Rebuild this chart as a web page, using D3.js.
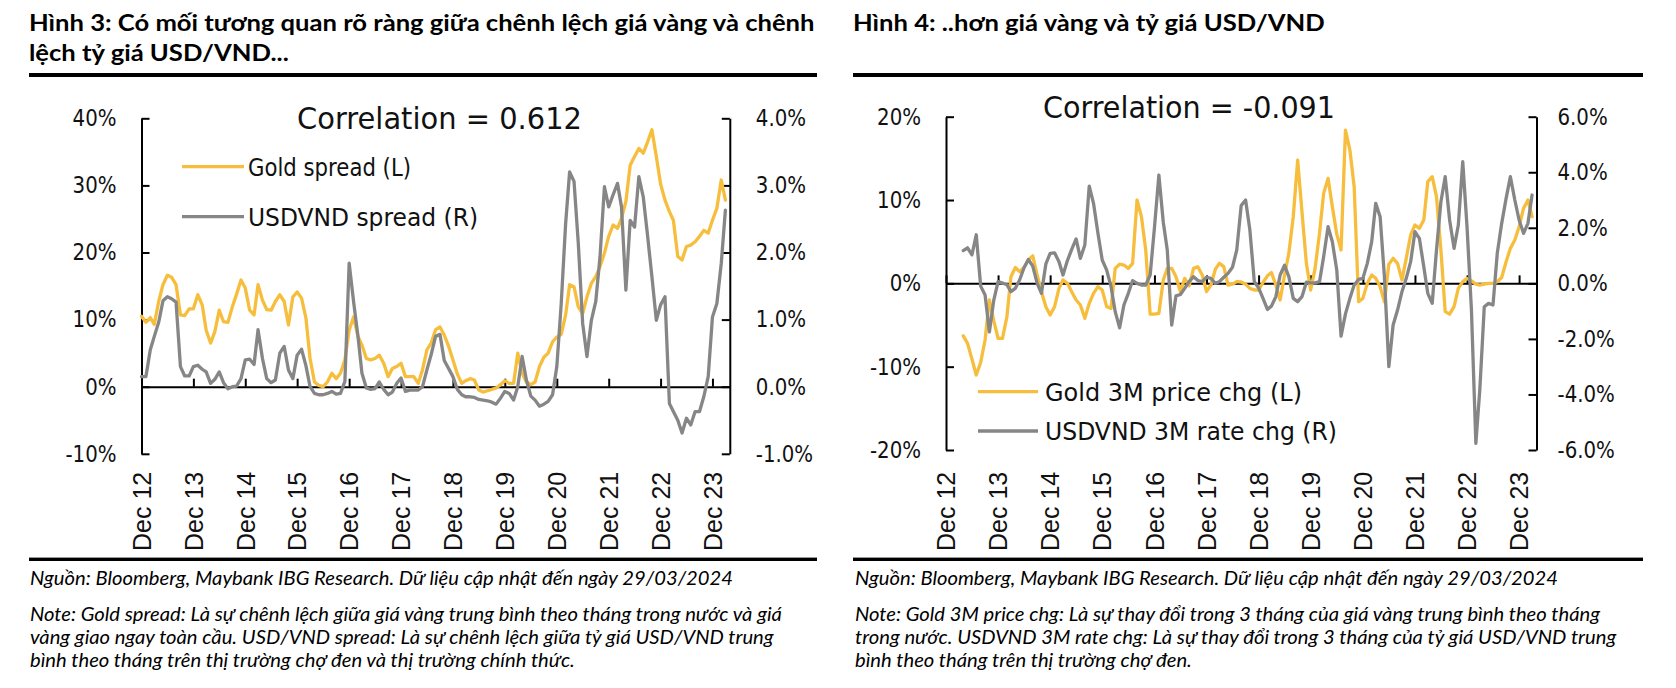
<!DOCTYPE html>
<html><head><meta charset="utf-8">
<script src="https://cdn.jsdelivr.net/npm/d3@7"></script>
<style>html,body{margin:0;padding:0;background:#fff}svg{display:block}</style>
</head><body>
<svg id="c" width="1676" height="688"></svg>
<script>
// ---------------- DATA ----------------
const startMonth = "2012-12"; // first monthly observation
const xTickLabels = ["Dec 12","Dec 13","Dec 14","Dec 15","Dec 16","Dec 17","Dec 18","Dec 19","Dec 20","Dec 21","Dec 22","Dec 23"];

// Figure 3 (%), monthly Dec-2012 .. Mar-2024
const goldSpread = [10.5, 9.6, 10.3, 9.3, 12.7, 15.2, 16.6, 16.3, 15.2, 10.7,
 10.6, 11.6, 11.6, 13.7, 12.2, 8.4, 6.5, 8.2, 11.4, 9.7,
 9.6, 11.9, 13.8, 15.9, 14.7, 11.4, 10.7, 15.2, 12.9, 11.5,
 11.4, 12.7, 13.7, 12.7, 9.2, 13.4, 14.1, 13.2, 10.2, 4.2,
 0.7, 0.2, 0.0, 0.7, 2.0, 1.2, 2.0, 4.0, 8.4, 10.4,
 7.5, 6.2, 4.2, 4.0, 4.2, 4.7, 3.5, 1.5, 2.7, 3.0,
 3.5, 1.5, 1.5, 1.5, 0.5, 2.5, 5.5, 6.5, 8.5, 8.9,
 7.7, 6.0, 4.0, 1.9, 0.5, 0.9, 1.2, 1.0, -0.5, -0.8,
 -0.6, -0.4, -0.2, 0.3, 0.9, 0.5, 0.5, 5.0, 2.0, 0.7,
 0.3, 0.7, 3.0, 4.4, 5.0, 6.7, 7.4, 7.8, 10.7, 15.2,
 14.9, 11.9, 10.9, 13.4, 15.4, 16.4, 17.9, 19.9, 22.4, 24.1,
 23.6, 25.1, 27.6, 33.0, 34.3, 35.5, 34.8, 36.5, 38.3, 34.3,
 30.2, 27.8, 26.1, 24.8, 19.4, 18.9, 20.9, 21.1, 21.6, 22.4,
 23.3, 22.9, 24.8, 26.6, 30.8, 27.8];
const usdvndSpread = [0.15, 0.15, 0.55, 0.75, 0.96, 1.28, 1.34, 1.31, 1.26, 0.30,
 0.16, 0.16, 0.30, 0.32, 0.26, 0.22, 0.05, 0.11, 0.22, 0.06,
 -0.03, 0.0, 0.01, 0.12, 0.40, 0.41, 0.33, 0.85, 0.42, 0.12,
 0.06, 0.10, 0.50, 0.60, 0.25, 0.12, 0.47, 0.56, 0.31, 0.0,
 -0.10, -0.12, -0.12, -0.10, -0.07, -0.11, -0.10, 0.08, 1.84, 1.27,
 0.75, 0.20, -0.02, -0.04, -0.03, 0.07, -0.04, -0.12, -0.08, 0.05,
 0.13, -0.07, -0.05, -0.05, -0.05, 0.0, 0.25, 0.48, 0.75, 0.78,
 0.39, 0.27, 0.15, -0.04, -0.12, -0.15, -0.15, -0.16, -0.19, -0.20,
 -0.21, -0.23, -0.26, -0.17, -0.07, -0.10, -0.20, 0.0, 0.45, 0.10,
 -0.14, -0.20, -0.29, -0.26, -0.22, -0.12, 0.30, 1.24, 2.43, 3.20,
 3.06, 2.14, 0.94, 0.45, 0.99, 1.27, 1.94, 2.98, 2.68, 2.86,
 3.03, 2.68, 1.44, 2.48, 2.38, 3.13, 2.83, 2.24, 1.64, 0.99,
 1.22, 1.34, -0.25, -0.37, -0.50, -0.69, -0.47, -0.57, -0.37, -0.37,
 -0.15, 0.15, 1.04, 1.24, 1.84, 2.63];

// Figure 4 (%), monthly Dec-2012 .. Mar-2024 (3M changes start Apr-2013)
const gold3m = [null, null, null, null, -6.3, -7.2, -9.1, -11.0, -9.5, -6.8,
 -2.0, -4.5, -6.6, -6.6, -4.0, 0.8, 1.9, 1.4, 1.9, 2.8,
 3.3, 1.0, -1.0, -2.8, -3.8, -2.8, -0.6, 0.4, 0.0, -1.0,
 -2.0, -2.6, -4.2, -2.4, -1.2, -0.4, -0.8, -2.8, -3.0, 1.8,
 2.3, 2.2, 1.8, 2.4, 10.0, 8.0, 4.0, -3.7, -3.7, -3.6,
 0.4, 1.8, 1.8, 0.8, -1.0, 0.6, -0.3, 1.8, 2.0, 1.0,
 -1.0, -0.2, 1.7, 2.4, 2.0, -0.2, -0.1, 0.2, 0.16, -0.1,
 -0.6, -0.8, -0.8, 0.1, 0.9, 1.3, -0.2, -2.0, 1.0, 3.6,
 8.0, 14.8, 8.6, 2.4, -0.8, 1.8, 6.0, 10.8, 12.6, 9.2,
 5.9, 4.0, 18.4, 16.0, 11.6, -2.2, -1.8, 0.0, 1.0, 0.6,
 -0.4, -2.2, 2.3, 3.0, 2.4, 0.4, 3.0, 5.8, 7.0, 6.6,
 7.6, 12.2, 12.8, 10.4, 4.0, -3.4, -3.7, -2.8, -0.6, 0.2,
 0.6, 0.3, -0.1, -0.2, -0.1, 0.0, 0.0, 0.2, 0.7, 2.6,
 4.2, 5.2, 6.8, 9.0, 10.0, 8.0];
const usdvnd3m = [null, null, null, null, 1.18, 1.28, 1.03, 1.75, -0.10, -0.42,
 -1.75, -0.60, 0.06, 0.01, -0.05, -0.30, -0.18, 0.12, 0.56, 0.86,
 0.62, 0.0, -0.36, 0.70, 1.08, 1.10, 0.78, 0.30, 0.82, 1.22,
 1.60, 0.90, 1.38, 3.50, 2.88, 1.80, 0.84, 0.48, -0.12, -1.02,
 -1.60, -0.78, -0.36, 0.10, 0.0, -0.06, -0.06, 0.30, 2.00, 3.90,
 2.20, 1.20, -1.50, -0.45, -0.40, -0.18, 0.06, 0.24, 0.10, 0.06,
 0.22, 0.18, 0.0, 0.06, 0.22, 0.36, 0.58, 1.20, 2.80, 3.00,
 1.92, 0.06, -0.16, -0.54, -0.94, -0.82, -0.48, 0.30, 0.65, 0.24,
 -0.54, -0.66, -0.48, 0.04, 0.02, 0.02, 0.06, 0.96, 2.04, 1.50,
 0.48, -1.90, -1.10, -0.54, -0.06, 0.14, 0.18, 0.72, 1.50, 2.88,
 2.40, 0.24, -3.00, -1.50, -0.96, -0.30, 0.18, 0.78, 1.86, 1.62,
 0.60, -0.36, -0.72, 1.20, 2.94, 3.84, 2.28, 1.26, 2.10, 4.38,
 2.04, -0.96, -5.76, -3.80, -0.84, -0.72, -0.78, 1.08, 2.16, 3.06,
 3.84, 3.00, 2.28, 1.80, 2.16, 3.18];

const fig3LeftTicks = [-10, 0, 10, 20, 30, 40];
const fig3LeftLabels = ["-10%", "0%", "10%", "20%", "30%", "40%"];
const fig3RightTicks = [-1, 0, 1, 2, 3, 4];
const fig3RightLabels = ["-1.0%", "0.0%", "1.0%", "2.0%", "3.0%", "4.0%"];
const fig4LeftTicks = [-20, -10, 0, 10, 20];
const fig4LeftLabels = ["-20%", "-10%", "0%", "10%", "20%"];
const fig4RightTicks = [-6, -4, -2, 0, 2, 4, 6];
const fig4RightLabels = ["-6.0%", "-4.0%", "-2.0%", "0.0%", "2.0%", "4.0%", "6.0%"];

const fig3Series = ["Gold spread (L)", "USDVND spread (R)"];
const fig4Series = ["Gold 3M price chg (L)", "USDVND 3M rate chg (R)"];
const fig3Corr = "Correlation = 0.612";
const fig4Corr = "Correlation = -0.091";

const fig3Title = ["Hình 3: Có mối tương quan rõ ràng giữa chênh lệch giá vàng và chênh", "lệch tỷ giá USD/VND..."];
const fig4Title = ["Hình 4: ..hơn giá vàng và tỷ giá USD/VND"];
const sourceText = "Nguồn: Bloomberg, Maybank IBG Research. Dữ liệu cập nhật đến ngày 29/03/2024";
const fig3Notes = ["Note: Gold spread: Là sự chênh lệch giữa giá vàng trung bình theo tháng trong nước và giá",
 "vàng giao ngay toàn cầu. USD/VND spread: Là sự chênh lệch giữa tỷ giá USD/VND trung",
 "bình theo tháng trên thị trường chợ đen và thị trường chính thức."];
const fig4Notes = ["Note: Gold 3M price chg: Là sự thay đổi trong 3 tháng của giá vàng trung bình theo tháng",
 "trong nước. USDVND 3M rate chg: Là sự thay đổi trong 3 tháng của tỷ giá USD/VND trung",
 "bình theo tháng trên thị trường chợ đen."];

// ---------------- DRAWING ----------------
const svg = d3.select("#c");
svg.append("rect").attr("width", 1676).attr("height", 688).attr("fill", "#fff");
const FONT_CHART = "'DejaVu Sans', Verdana, sans-serif";
const FONT_TEXT = "Lato, 'Noto Sans', sans-serif";
const FONT_XLAB = "'Liberation Sans', Arial, sans-serif";
const GOLD = "#F6BE3C", GREY = "#868686";

const startDate = d3.timeParse("%Y-%m")(startMonth);
const months = d3.range(goldSpread.length).map(i => d3.timeMonth.offset(startDate, i));
const xTickDates = xTickLabels.map(s => d3.timeParse("%b %y")(s));

function squeezeTicks(sel, k) {
  sel.selectAll(".tick text").each(function () {
    const t = d3.select(this);
    const xx = +t.attr("x") || 0;
    t.attr("x", 0).attr("transform", `translate(${xx},0) scale(${k},1)`);
  });
}

function drawChart(c) {
  const g = svg.append("g");
  const x = d3.scaleTime().domain([startDate, d3.timeMonth.offset(startDate, months.length)]).range([c.x0, c.x1]);
  const y = d3.scaleLinear().domain(c.yDom).range([c.yBot, c.yTop]);
  const y2 = d3.scaleLinear().domain(c.y2Dom).range([c.yBot, c.yTop]);

  const styleAxis = a => {
    a.selectAll("path.domain").attr("stroke", "#000").attr("stroke-width", 2);
    a.selectAll(".tick line").attr("stroke", "#000").attr("stroke-width", 2);
    a.selectAll(".tick text").attr("font-family", FONT_CHART).attr("font-size", 23).attr("fill", "#111");
  };

  const aL = g.append("g").attr("transform", `translate(${c.x0},0)`)
    .call(d3.axisLeft(y).tickValues(c.yTicks).tickFormat((d, i) => c.yLabels[i]).tickSize(-8).tickSizeOuter(0).tickPadding(c.padL));
  styleAxis(aL); squeezeTicks(aL, 0.86);

  const aR = g.append("g").attr("transform", `translate(${c.x1},0)`)
    .call(d3.axisRight(y2).tickValues(c.y2Ticks).tickFormat((d, i) => c.y2Labels[i]).tickSize(-8).tickSizeOuter(0).tickPadding(c.padR));
  styleAxis(aR); squeezeTicks(aR, 0.86);

  const aX = g.append("g").attr("transform", `translate(0,${y(0)})`)
    .call(d3.axisBottom(x).tickValues(xTickDates).tickFormat("").tickSize(-8).tickSizeOuter(0));
  styleAxis(aX);

  const aXL = g.append("g").attr("transform", `translate(0,${c.xLabelY})`)
    .call(d3.axisBottom(x).tickValues(xTickDates).tickFormat((d, i) => xTickLabels[i]).tickSize(0).tickSizeOuter(0));
  aXL.select("path.domain").remove();
  aXL.selectAll(".tick text")
    .attr("font-family", FONT_XLAB).attr("font-size", 25).attr("fill", "#111")
    .attr("x", 0).attr("y", 0).attr("dy", "0.35em")
    .attr("text-anchor", "start").attr("transform", "rotate(-90)");

  const mk = scale => d3.line().defined(d => d != null).x((d, i) => x(months[i])).y(d => scale(d));
  g.append("path").datum(c.s1).attr("d", mk(y)).attr("fill", "none").attr("stroke", GOLD)
    .attr("stroke-width", 3.3).attr("stroke-linejoin", "round").attr("stroke-linecap", "round");
  g.append("path").datum(c.s2).attr("d", mk(y2)).attr("fill", "none").attr("stroke", GREY)
    .attr("stroke-width", 3.3).attr("stroke-linejoin", "round").attr("stroke-linecap", "round");

  // legend
  const cols = [GOLD, GREY];
  c.legend.rows.forEach((ly, i) => {
    g.append("line").attr("x1", c.legend.lx0).attr("x2", c.legend.lx1).attr("y1", ly).attr("y2", ly)
      .attr("stroke", cols[i]).attr("stroke-width", 3.3);
    g.append("text").attr("x", c.legend.tx).attr("y", ly).attr("dy", "0.36em")
      .attr("font-family", FONT_CHART).attr("font-size", 24.5).attr("fill", "#111")
      .attr("textLength", c.legend.widths[i]).attr("lengthAdjust", "spacingAndGlyphs")
      .text(c.names[i]);
  });
  // correlation
  g.append("text").attr("x", c.corr.x).attr("y", c.corr.y)
    .attr("font-family", FONT_CHART).attr("font-size", 29.5).attr("fill", "#111")
    .attr("textLength", c.corr.w).attr("lengthAdjust", "spacingAndGlyphs").text(c.corr.text);
}

drawChart({
  x0: 141.5, x1: 729.8, yTop: 118.3, yBot: 453.8,
  yDom: [-10, 40], y2Dom: [-1, 4],
  yTicks: fig3LeftTicks, yLabels: fig3LeftLabels, y2Ticks: fig3RightTicks, y2Labels: fig3RightLabels,
  padL: 25, padR: 26, xLabelY: 551,
  s1: goldSpread, s2: usdvndSpread, names: fig3Series,
  legend: { lx0: 182, lx1: 244, tx: 248, rows: [166.7, 216.7], widths: [163, 230] },
  corr: { x: 297, y: 129, w: 285, text: fig3Corr }
});
drawChart({
  x0: 946, x1: 1536.5, yTop: 116.7, yBot: 450,
  yDom: [-20, 20], y2Dom: [-6, 6],
  yTicks: fig4LeftTicks, yLabels: fig4LeftLabels, y2Ticks: fig4RightTicks, y2Labels: fig4RightLabels,
  padL: 25, padR: 21, xLabelY: 551,
  s1: gold3m, s2: usdvnd3m, names: fig4Series,
  legend: { lx0: 978, lx1: 1038, tx: 1045, rows: [391.7, 431], widths: [257, 292] },
  corr: { x: 1043, y: 118, w: 292, text: fig4Corr }
});

// rules
[[29, 817], [853, 1643]].forEach(([a, b]) => {
  svg.append("rect").attr("x", a).attr("y", 73).attr("width", b - a).attr("height", 4).attr("fill", "#000");
  svg.append("rect").attr("x", a).attr("y", 557.6).attr("width", b - a).attr("height", 3.4).attr("fill", "#000");
});

// titles and notes, scaled horizontally to match the reference width
function placeLines(lines, x0, ys, opts) {
  return lines.map((s, i) => svg.append("text").attr("x", 0).attr("y", 0)
    .attr("font-family", FONT_TEXT).attr("font-size", opts.size)
    .attr("font-weight", opts.bold ? 700 : 400).attr("font-style", opts.italic ? "italic" : "normal")
    .attr("fill", "#000").attr("data-x", x0).attr("data-y", ys[i]).text(s));
}
const titleEls = [
  ...placeLines(fig3Title, 29, [31, 61], { size: 22, bold: true }),
  ...placeLines(fig4Title, 853, [31], { size: 22, bold: true })
];
const kTitle = 786 / titleEls[0].node().getComputedTextLength();
titleEls.forEach(t => t.attr("transform", `translate(${t.attr("data-x")},${t.attr("data-y")}) scale(${kTitle},1)`));

const noteEls = [
  ...placeLines([sourceText, ...fig3Notes], 30, [585, 621, 644, 667], { size: 19, italic: true }),
  ...placeLines([sourceText, ...fig4Notes], 855, [585, 621, 644, 667], { size: 19, italic: true })
];
const kNote = 703 / noteEls[0].node().getComputedTextLength();
noteEls.forEach(t => t.attr("transform", `translate(${t.attr("data-x")},${t.attr("data-y")}) scale(${kNote},1)`));
</script>
</body></html>
